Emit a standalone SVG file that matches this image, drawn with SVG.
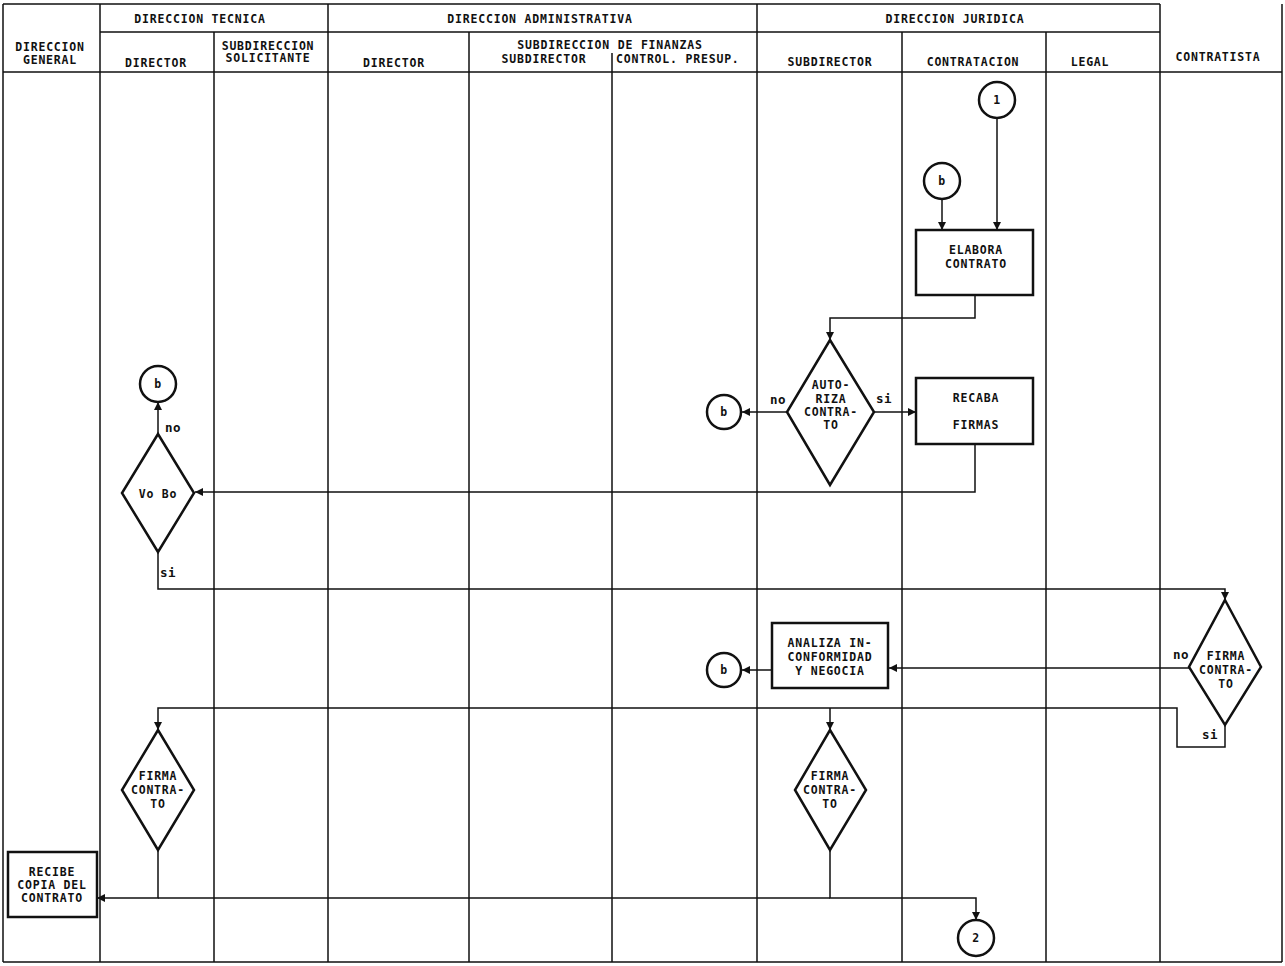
<svg xmlns="http://www.w3.org/2000/svg" width="1285" height="966" viewBox="0 0 1285 966">
<style>
.lane{stroke:#111;stroke-width:1.5;fill:none}
.shape{stroke:#111;stroke-width:2.5;fill:#fff}
.conn{stroke:#111;stroke-width:1.5;fill:none}
text{font-family:"DejaVu Sans Mono","Liberation Mono",monospace;font-weight:bold;font-size:11.5px;fill:#111;text-anchor:middle;letter-spacing:0.8px}
.lbl{font-size:12.5px;letter-spacing:0.5px}
.st{text-anchor:start}
</style>
<defs>
<marker id="ah" viewBox="0 0 10 10" refX="10" refY="5" markerWidth="9" markerHeight="8" markerUnits="userSpaceOnUse" orient="auto"><path d="M0,0 L10,5 L0,10 z" fill="#111"/></marker>
</defs>
<rect width="1285" height="966" fill="#fff"/>
<g id="swimlanes">
<path class="lane" d="M3,4 H1160 M100,32 H1160 M3,72 H1282 M3,962 H1282"/>
<path class="lane" d="M3,4 V962 M1282,4 V962 M100,4 V962 M214,32 V962 M328,4 V962 M469,32 V962 M612,53 V962 M757,4 V962 M902,32 V962 M1046,32 V962 M1160,4 V962"/>
<text x="200" y="23">DIRECCION TECNICA</text>
<text x="540" y="23">DIRECCION ADMINISTRATIVA</text>
<text x="955" y="23">DIRECCION JURIDICA</text>
<text x="50" y="51">DIRECCION</text>
<text x="50" y="64">GENERAL</text>
<text x="156" y="67">DIRECTOR</text>
<text x="268" y="50">SUBDIRECCION</text>
<text x="268" y="62">SOLICITANTE</text>
<text x="394" y="67">DIRECTOR</text>
<text x="610" y="49">SUBDIRECCION DE FINANZAS</text>
<text x="544" y="63">SUBDIRECTOR</text>
<text class="st" x="616" y="63">CONTROL. PRESUP.</text>
<text x="830" y="66">SUBDIRECTOR</text>
<text x="973" y="66">CONTRATACION</text>
<text x="1090" y="66">LEGAL</text>
<text x="1218" y="61">CONTRATISTA</text>
</g>
<g id="connectors">
<path class="conn" d="M997,118 V230" marker-end="url(#ah)"/>
<path class="conn" d="M942,199 V230" marker-end="url(#ah)"/>
<path class="conn" d="M975,295 V318 H830 V340" marker-end="url(#ah)"/>
<path class="conn" d="M787,412 H742" marker-end="url(#ah)"/>
<path class="conn" d="M874,412 H916" marker-end="url(#ah)"/>
<path class="conn" d="M975,444 V492 H195" marker-end="url(#ah)"/>
<path class="conn" d="M158,434 V402" marker-end="url(#ah)"/>
<path class="conn" d="M158,552 V589 H1225 V600" marker-end="url(#ah)"/>
<path class="conn" d="M1189,668 H889" marker-end="url(#ah)"/>
<path class="conn" d="M772,670 H742" marker-end="url(#ah)"/>
<path class="conn" d="M1225,725 V747 H1177 V708 H158 V730" marker-end="url(#ah)"/>
<path class="conn" d="M830,708 V730" marker-end="url(#ah)"/>
<path class="conn" d="M158,850 V898 H97" marker-end="url(#ah)"/>
<path class="conn" d="M830,850 V898 H976 V920" marker-end="url(#ah)"/>
<path class="conn" d="M158,898 H830"/>
<text class="lbl" x="778" y="404">no</text>
<text class="lbl" x="884" y="403">si</text>
<text class="lbl" x="173" y="432">no</text>
<text class="lbl" x="168" y="577">si</text>
<text class="lbl" x="1181" y="659">no</text>
<text class="lbl" x="1210" y="739">si</text>
</g>
<g id="conn1"><circle class="shape" cx="997" cy="100" r="18"/><text x="997" y="104">1</text></g>
<g id="conb1"><circle class="shape" cx="942" cy="181" r="18"/><text x="942" y="185">b</text></g>
<g id="elabora"><rect class="shape" x="916" y="230" width="117" height="65"/><text x="976" y="254">ELABORA</text><text x="976" y="268">CONTRATO</text></g>
<g id="autoriza"><path class="shape" d="M830,340 L874,412 L830,485 L787,412 Z"/><text x="831" y="389">AUTO-</text><text x="831" y="403">RIZA</text><text x="831" y="416">CONTRA-</text><text x="831" y="429">TO</text></g>
<g id="conb2"><circle class="shape" cx="724" cy="412" r="17"/><text x="724" y="416">b</text></g>
<g id="recaba"><rect class="shape" x="916" y="378" width="117" height="66"/><text x="976" y="402">RECABA</text><text x="976" y="429">FIRMAS</text></g>
<g id="vobo"><path class="shape" d="M158,434 L194,493 L158,552 L122,493 Z"/><text x="158" y="498">Vo Bo</text></g>
<g id="conb3"><circle class="shape" cx="158" cy="384" r="18"/><text x="158" y="388">b</text></g>
<g id="firma3"><path class="shape" d="M1225,600 L1261,667 L1225,725 L1189,667 Z"/><text x="1226" y="660">FIRMA</text><text x="1226" y="674">CONTRA-</text><text x="1226" y="688">TO</text></g>
<g id="analiza"><rect class="shape" x="772" y="623" width="116" height="65"/><text x="830" y="647">ANALIZA IN-</text><text x="830" y="661">CONFORMIDAD</text><text x="830" y="675">Y NEGOCIA</text></g>
<g id="conb4"><circle class="shape" cx="724" cy="670" r="17"/><text x="724" y="674">b</text></g>
<g id="firma1"><path class="shape" d="M158,730 L194,790 L158,850 L122,790 Z"/><text x="158" y="780">FIRMA</text><text x="158" y="794">CONTRA-</text><text x="158" y="808">TO</text></g>
<g id="firma2"><path class="shape" d="M830,730 L866,790 L830,850 L795,790 Z"/><text x="830" y="780">FIRMA</text><text x="830" y="794">CONTRA-</text><text x="830" y="808">TO</text></g>
<g id="recibe"><rect class="shape" x="8" y="852" width="89" height="65"/><text x="52" y="876">RECIBE</text><text x="52" y="889">COPIA DEL</text><text x="52" y="902">CONTRATO</text></g>
<g id="conn2"><circle class="shape" cx="976" cy="938" r="18"/><text x="976" y="942">2</text></g>
</svg>
